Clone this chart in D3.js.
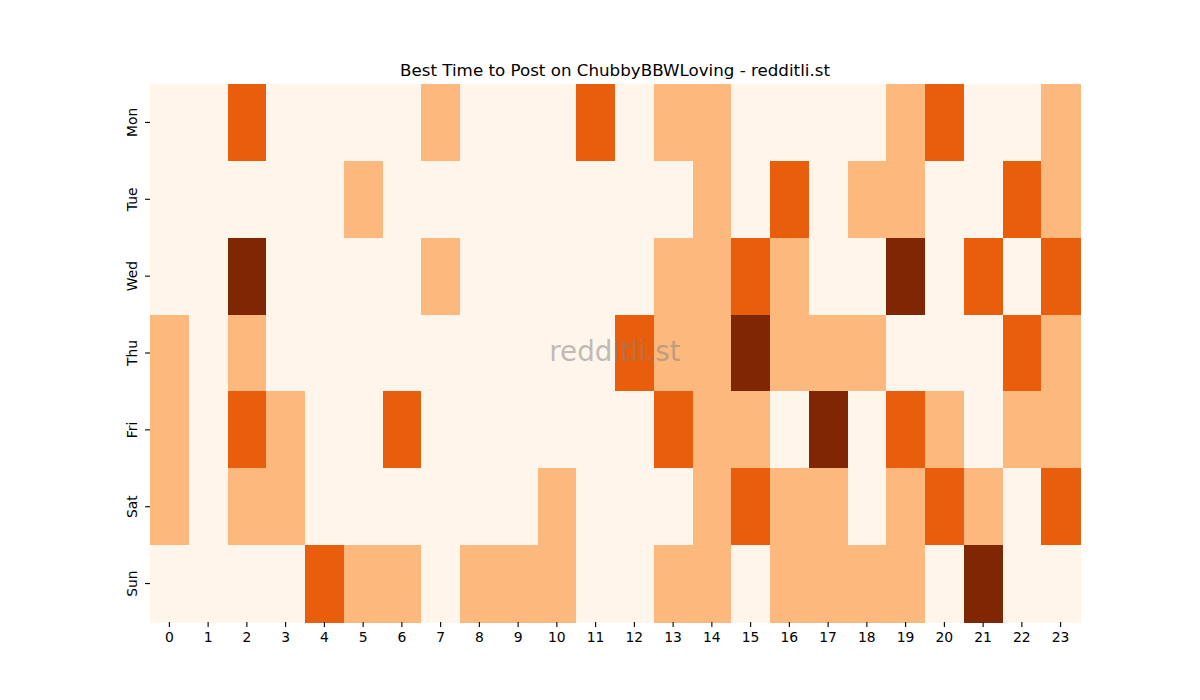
<!DOCTYPE html>
<html>
<head>
<meta charset="utf-8">
<script src="https://cdn.jsdelivr.net/npm/d3@7"></script>
<style>
  body { margin: 0; background: #fff; }
  text { font-family: "DejaVu Sans", sans-serif; }
</style>
</head>
<body>
<div id="chart"></div>
<script>
const days = ["Mon", "Tue", "Wed", "Thu", "Fri", "Sat", "Sun"];
const hours = d3.range(24).map(String);

// activity level per hour (0..3), one row per day
const mon = [0,0,2,0,0,0,0,1,0,0,0,2,0,1,1,0,0,0,0,1,2,0,0,1];
const tue = [0,0,0,0,0,1,0,0,0,0,0,0,0,0,1,0,2,0,1,1,0,0,2,1];
const wed = [0,0,3,0,0,0,0,1,0,0,0,0,0,1,1,2,1,0,0,3,0,2,0,2];
const thu = [1,0,1,0,0,0,0,0,0,0,0,0,2,1,1,3,1,1,1,0,0,0,2,1];
const fri = [1,0,2,1,0,0,2,0,0,0,0,0,0,2,1,1,0,3,0,2,1,0,1,1];
const sat = [1,0,1,1,0,0,0,0,0,0,1,0,0,0,1,2,1,1,0,1,2,1,0,2];
const sun = [0,0,0,0,2,1,1,0,1,1,1,0,0,1,1,0,1,1,1,1,0,3,0,0];
const rows = [mon, tue, wed, thu, fri, sat, sun];

const levelColors = ["#fff5eb", "#fdb97d", "#e95e0d", "#7f2704"];

const width = 1200, height = 700;
const margin = {top: 84, right: 120, bottom: 78, left: 150};

const svg = d3.select("#chart").append("svg")
    .attr("width", width)
    .attr("height", height);

const x = d3.scaleBand().domain(hours)
    .range([margin.left, width - margin.right]);
const y = d3.scaleBand().domain(days)
    .range([margin.top, height - margin.bottom]);
const color = d3.scaleOrdinal().domain([0, 1, 2, 3]).range(levelColors);

const cells = [];
rows.forEach((r, i) => r.forEach((v, j) => cells.push({day: days[i], hour: hours[j], v})));

svg.append("g")
  .selectAll("rect")
  .data(cells)
  .join("rect")
    .attr("x", d => x(d.hour))
    .attr("y", d => y(d.day))
    .attr("width", x.bandwidth() + 0.5)
    .attr("height", y.bandwidth() + 0.5)
    .attr("fill", d => color(d.v))
    .attr("shape-rendering", "crispEdges");

const xAxis = svg.append("g")
    .attr("transform", `translate(0,${height - margin.bottom})`)
    .call(d3.axisBottom(x).tickSize(4.9).tickPadding(5));
const yAxis = svg.append("g")
    .attr("transform", `translate(${margin.left},0)`)
    .call(d3.axisLeft(y).tickSize(4.9).tickPadding(5));

[xAxis, yAxis].forEach(a => {
  a.select(".domain").remove();
  a.selectAll(".tick line").attr("stroke", "#000").attr("stroke-width", 1.1);
  a.selectAll(".tick text")
    .attr("font-family", "DejaVu Sans, sans-serif")
    .attr("font-size", 13.9)
    .attr("fill", "#000");
});

yAxis.selectAll(".tick text")
    .attr("text-anchor", "middle")
    .attr("dy", null)
    .attr("x", null)
    .attr("transform", "translate(-17,0) rotate(-90)")
    .attr("dominant-baseline", "middle");

svg.append("text")
    .attr("x", (margin.left + width - margin.right) / 2)
    .attr("y", 76)
    .attr("text-anchor", "middle")
    .attr("font-size", 16.7)
    .attr("fill", "#000")
    .text("Best Time to Post on ChubbyBBWLoving - redditli.st");

svg.append("text")
    .attr("x", (margin.left + width - margin.right) / 2)
    .attr("y", (margin.top + height - margin.bottom) / 2)
    .attr("text-anchor", "middle")
    .attr("dominant-baseline", "middle")
    .attr("font-size", 27.8)
    .attr("fill", "#808080")
    .attr("fill-opacity", 0.5)
    .text("redditli.st");
</script>
</body>
</html>
